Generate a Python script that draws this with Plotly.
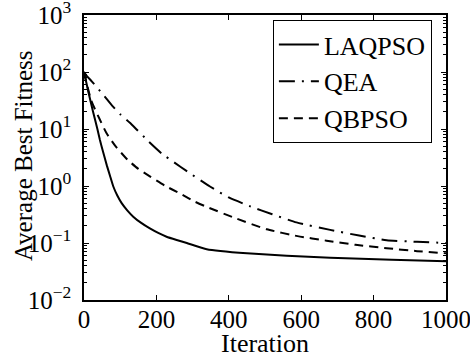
import plotly.graph_objects as go

laq_x = [0, 12, 25, 37, 44, 53, 63, 72, 81, 92, 104, 120, 136, 158, 182, 205, 228, 256, 284, 339, 450, 560, 680, 850, 1000]
laq_y = [100, 45, 20, 10, 6.4, 3.9, 2.3, 1.5, 0.98, 0.68, 0.5, 0.37, 0.29, 0.225, 0.18, 0.15, 0.129, 0.113, 0.10, 0.078, 0.066, 0.06, 0.055, 0.051, 0.048]

qea_x = [0, 8, 22, 50, 77, 100, 133, 179, 215, 250, 284, 348, 400, 459, 520, 587, 680, 760, 836, 920, 1000]
qea_y = [100, 85, 68, 42, 26, 18.2, 11.8, 6.0, 3.7, 2.57, 1.82, 0.98, 0.63, 0.44, 0.32, 0.23, 0.17, 0.135, 0.112, 0.105, 0.1]

qbp_x = [0, 20, 44, 62, 87, 120, 150, 184, 225, 265, 304, 343, 420, 505, 590, 670, 750, 836, 920, 1000]
qbp_y = [100, 31.6, 14.5, 8.5, 5.0, 2.9, 2.0, 1.45, 1.0, 0.74, 0.54, 0.42, 0.27, 0.174, 0.132, 0.11, 0.093, 0.081, 0.072, 0.066]

y_tickvals = [0.01, 0.1, 1, 10, 100, 1000]
y_ticktext = ["10<sup>\u22122</sup>", "10<sup>\u22121</sup>", "10<sup>0</sup>",
              "10<sup>1</sup>", "10<sup>2</sup>", "10<sup>3</sup>"]
x_tickvals = [0, 200, 400, 600, 800, 1000]

x_title = "Iteration"
y_title = "Average Best Fitness"

FONT = "Liberation Serif, Times New Roman, serif"

fig = go.Figure()
fig.add_trace(go.Scatter(x=laq_x, y=laq_y, mode="lines", name="LAQPSO",
                         line=dict(color="black", width=2, dash="solid", shape="spline", smoothing=0.4)))
fig.add_trace(go.Scatter(x=qea_x, y=qea_y, mode="lines", name="QEA",
                         line=dict(color="black", width=2, dash="16px,7px,2px,7px", shape="spline", smoothing=0.5)))
fig.add_trace(go.Scatter(x=qbp_x, y=qbp_y, mode="lines", name="QBPSO",
                         line=dict(color="black", width=2, dash="9px,6px", shape="spline", smoothing=0.5)))

fig.update_layout(
    width=470, height=363,
    margin=dict(l=84, r=24, t=15, b=63),
    paper_bgcolor="white", plot_bgcolor="white",
    font=dict(family=FONT, size=24, color="black"),
    showlegend=True,
    legend=dict(x=0.961, y=0.982, xanchor="right", yanchor="top",
                bordercolor="black", borderwidth=1, bgcolor="white",
                font=dict(family=FONT, size=26), tracegroupgap=0, itemwidth=40),
)
fig.update_xaxes(
    range=[0, 1000], tickvals=x_tickvals, showgrid=False, zeroline=False,
    showline=True, linecolor="black", linewidth=1.5, mirror="allticks",
    ticks="inside", ticklen=5, tickcolor="black", automargin=False,
    tickfont=dict(family=FONT, size=25), ticklabeloverflow="allow", ticklabelstandoff=-4,
)
fig.update_yaxes(
    type="log", range=[-2, 3], tickvals=y_tickvals, ticktext=y_ticktext,
    showgrid=False, zeroline=False,
    showline=True, linecolor="black", linewidth=1.5, mirror="allticks",
    ticks="inside", ticklen=5, tickcolor="black", automargin=False,
    minor=dict(ticks="inside", ticklen=3, tickcolor="black", showgrid=False, dtick="D1"),
    tickfont=dict(family=FONT, size=25), ticklabelstandoff=6, ticklabeloverflow="allow",
)
fig.add_annotation(text=x_title, xref="paper", yref="paper", x=0.5, y=-0.151,
                   xanchor="center", yanchor="middle", showarrow=False,
                   font=dict(family=FONT, size=26))
fig.add_annotation(text=y_title, xref="paper", yref="paper", x=-0.1685, y=0.505,
                   xanchor="center", yanchor="middle", showarrow=False, textangle=-90,
                   font=dict(family=FONT, size=25))

fig.write_html("out.html")
